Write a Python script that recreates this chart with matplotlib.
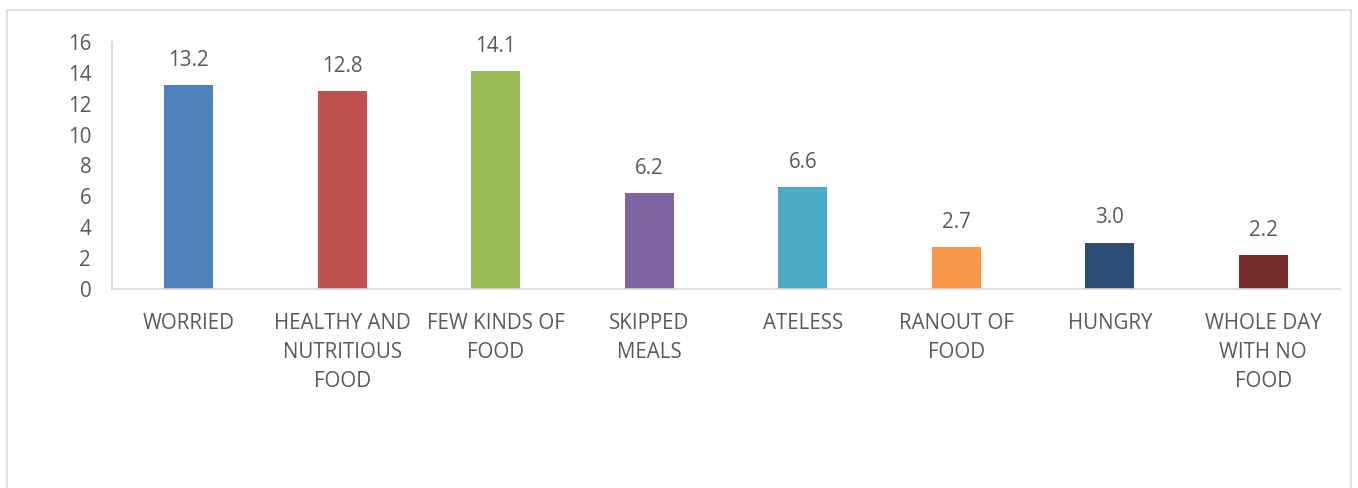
import matplotlib.pyplot as plt
from matplotlib.patches import Rectangle

categories = ["WORRIED", "HEALTHY AND\nNUTRITIOUS\nFOOD", "FEW KINDS OF\nFOOD", "SKIPPED\nMEALS",
              "ATELESS", "RANOUT OF\nFOOD", "HUNGRY", "WHOLE DAY\nWITH NO\nFOOD"]
values = [13.2, 12.8, 14.1, 6.2, 6.6, 2.7, 3.0, 2.2]
colors = ["#4F81BD", "#C0504D", "#9BBB59", "#8064A2", "#4BACC6", "#F79646", "#2C4D75", "#772C2A"]
yticks = [0, 2, 4, 6, 8, 10, 12, 14, 16]

W, H = 1358, 488
fig = plt.figure(figsize=(W / 100, H / 100), dpi=100)
plt.rcParams['font.family'] = ['Open Sans', 'DejaVu Sans']
text_color = "#595959"
fs = 14.8

# outer chart border
fig.patches.append(Rectangle((7 / W, -0.05), (1351 - 7) / W, 1.05 - 10 / H, transform=fig.transFigure,
                             fill=False, edgecolor="#D9D9D9", linewidth=1.2))

ax = fig.add_axes([112 / W, 1 - 289 / H, (1340 - 112) / W, (289 - 42) / H])
x = range(len(values))
ax.bar(x, values, width=0.32, color=colors)
for i, v in enumerate(values):
    ax.annotate(f"{v:.1f}", (i, v), xytext=(0, 14), textcoords="offset points",
                ha="center", va="baseline", fontsize=fs, color=text_color)

ax.set_xlim(-0.5, len(values) - 0.5)
ax.set_ylim(0, 16)
ax.set_yticks(yticks)
ax.set_xticks(list(x))
ax.set_xticklabels(categories, fontsize=fs, color=text_color, linespacing=1.52, va="top")
ax.tick_params(axis="y", labelsize=fs, labelcolor=text_color, length=0, pad=15)
ax.tick_params(axis="x", length=0, pad=17)
for s in ["top", "right"]:
    ax.spines[s].set_visible(False)
ax.spines["left"].set_color("#D9D9D9")
ax.spines["bottom"].set_color("#D9D9D9")
ax.spines["left"].set_linewidth(1.2)
ax.spines["bottom"].set_linewidth(1.2)

fig.savefig("out.png", dpi=100)
